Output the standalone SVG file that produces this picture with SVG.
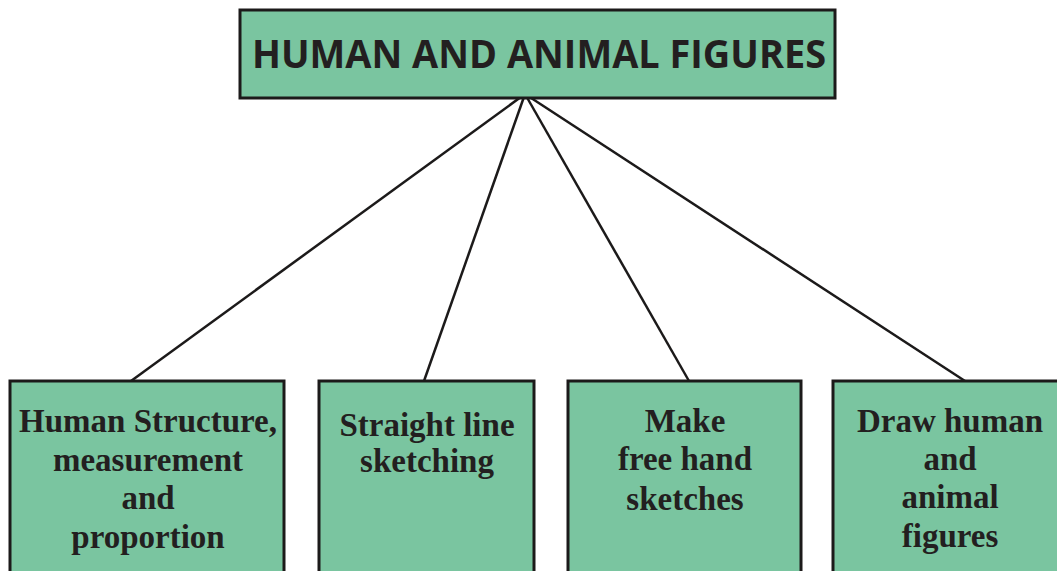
<svg xmlns="http://www.w3.org/2000/svg" width="1057" height="571" viewBox="0 0 1057 571">
<style>
.box{fill:#7ac5a0;stroke:#1c1a1a;stroke-width:3}
.t{font-family:"Liberation Serif","Times New Roman",serif;font-weight:bold;font-size:33px;fill:#231f20;text-anchor:middle}
.h{font-family:"Open Sans","Liberation Sans",Arial,sans-serif;font-weight:bold;font-size:40px;fill:#231f20;text-anchor:middle}
.c{stroke:#1c1a1a;stroke-width:2.5;fill:none}
</style>
<rect width="1057" height="571" fill="#ffffff"/>
<g id="connectors">
<line class="c" x1="525" y1="94" x2="131" y2="381"/>
<line class="c" x1="525" y1="94" x2="424" y2="381"/>
<line class="c" x1="525" y1="94" x2="689" y2="381"/>
<line class="c" x1="525" y1="94" x2="965" y2="381"/>
</g>
<g id="root">
<rect class="box" x="240" y="10" width="595" height="88"/>
<text class="h" x="539" y="68" textLength="574" lengthAdjust="spacingAndGlyphs">HUMAN AND ANIMAL FIGURES</text>
</g>
<g id="n1">
<rect class="box" x="10" y="381" width="274" height="200"/>
<text class="t" x="148" y="432">Human Structure,</text>
<text class="t" x="148" y="471">measurement</text>
<text class="t" x="148" y="509">and</text>
<text class="t" x="148" y="548">proportion</text>
</g>
<g id="n2">
<rect class="box" x="319" y="381" width="215" height="200"/>
<text class="t" x="427" y="436">Straight line</text>
<text class="t" x="427" y="472">sketching</text>
</g>
<g id="n3">
<rect class="box" x="568" y="381" width="233" height="200"/>
<text class="t" x="685" y="432">Make</text>
<text class="t" x="685" y="470">free hand</text>
<text class="t" x="685" y="510">sketches</text>
</g>
<g id="n4">
<rect class="box" x="833" y="381" width="240" height="200"/>
<text class="t" x="950" y="432">Draw human</text>
<text class="t" x="950" y="470">and</text>
<text class="t" x="950" y="508">animal</text>
<text class="t" x="950" y="547">figures</text>
</g>
</svg>
